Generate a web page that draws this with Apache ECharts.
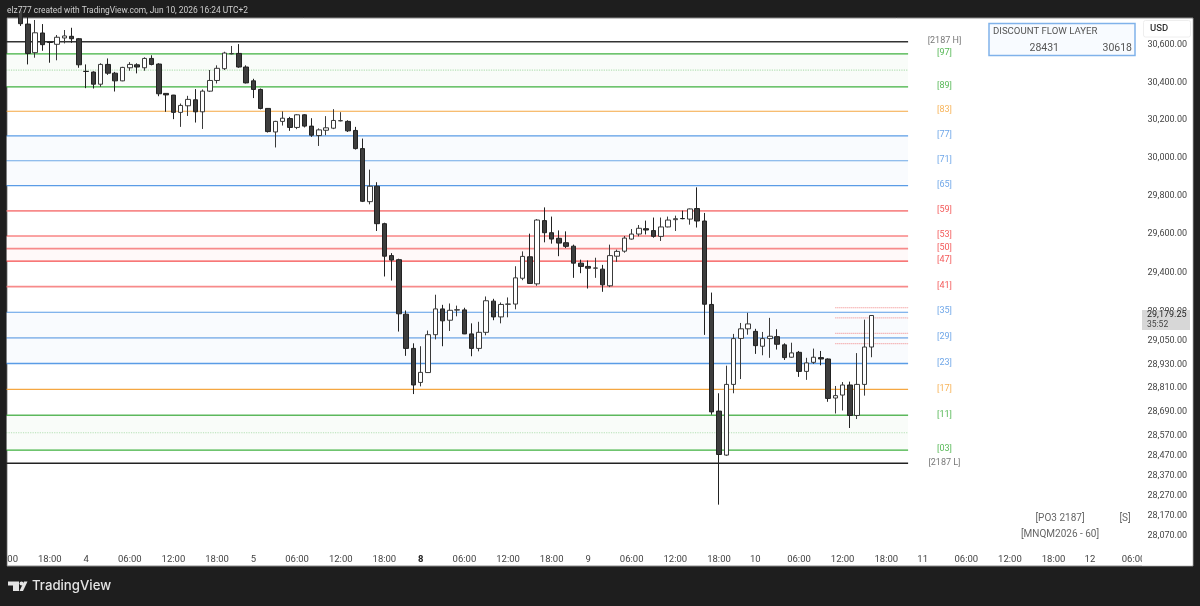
<!DOCTYPE html>
<html>
<head>
<meta charset="utf-8">
<script src="https://cdn.jsdelivr.net/npm/echarts@6/dist/echarts.min.js"></script>
<style>html,body{margin:0;padding:0;background:#1e1e1e}#c{width:1200px;height:606px}</style>
</head>
<body>
<div id="c"></div>
<script>
const opens=[30789,30713,30559,30665,30615,30604,30638,30647,30634,30459,30455,30390,30496,30449,30408,30478,30494,30478,30528,30498,30341,30332,30240,30275,30307,30243,30353,30410,30473,30553,30555,30482,30408,30362,30261,30136,30192,30207,30160,30227,30167,30117,30145,30156,30195,30192,30144,30048,29769,29850,29654,29488,29467,29186,29011,28838,28888,29081,29213,29155,29207,29208,29085,29011,29093,29253,29172,29237,29238,29371,29482,29342,29670,29607,29578,29555,29537,29449,29432,29423,29418,29332,29485,29511,29574,29600,29628,29618,29588,29637,29675,29681,29678,29733,29668,29236,28693,28472,28828,29062,29111,29098,29022,29061,29071,29029,28966,28991,28894,28940,28964,28957,28759,28774,28825,28671,28828,29018];
const closes=[30715,30555,30666,30602,30614,30642,30649,30634,30494,30458,30390,30496,30449,30408,30480,30496,30482,30528,30496,30339,30333,30240,30277,30309,30243,30353,30410,30475,30557,30554,30482,30397,30362,30261,30138,30192,30209,30160,30227,30167,30119,30147,30158,30197,30196,30142,30048,29771,29850,29654,29485,29465,29188,29011,28825,28889,29081,29213,29152,29206,29209,29085,29011,29093,29255,29172,29236,29238,29373,29484,29344,29673,29607,29574,29553,29536,29449,29432,29423,29424,29337,29488,29510,29579,29600,29630,29621,29588,29637,29673,29680,29680,29731,29668,29237,28689,28475,28828,29061,29111,29136,29025,29061,29073,29032,28964,28988,28894,28937,28966,28957,28757,28771,28825,28671,28828,29018,29179.25];
const lows=[30703,30496,30532,30569,30505,30518,30609,30612,30478,30369,30367,30376,30440,30351,30406,30462,30448,30462,30491,30326,30243,30204,30163,30221,30186,30152,30349,30394,30466,30550,30478,30394,30316,30256,30133,30054,30170,30142,30151,30160,30110,30062,30119,30151,30192,30136,30043,29767,29755,29616,29380,29359,29097,28973,28779,28818,28887,29057,29022,29100,29175,29084,28971,28996,29078,29155,29139,29170,29211,29361,29342,29332,29557,29550,29485,29527,29373,29397,29318,29373,29301,29325,29456,29503,29571,29588,29598,29581,29564,29635,29616,29677,29649,29634,29080,28675,28225,28468,28783,28855,29081,28983,28976,28963,29005,28952,28964,28866,28851,28932,28925,28740,28681,28696,28608,28653,28771,28966];
const highs=[30816,30757,30735,30713,30616,30654,30681,30693,30638,30496,30459,30502,30528,30456,30483,30508,30502,30534,30545,30502,30342,30333,30287,30328,30364,30362,30466,30491,30564,30595,30605,30491,30419,30367,30262,30195,30245,30216,30230,30230,30209,30155,30220,30257,30241,30198,30163,30101,29937,29871,29659,29501,29472,29205,29037,29022,29102,29286,29234,29241,29230,29219,29139,29147,29277,29265,29246,29272,29433,29510,29602,29678,29739,29691,29619,29614,29545,29467,29463,29477,29440,29545,29519,29590,29626,29647,29670,29686,29686,29691,29696,29722,29733,29844,29710,29297,28783,28923,29085,29141,29193,29111,29095,29167,29109,29037,29040,28998,28963,29010,28998,28960,28820,28840,28842,28987,29158,29180];

const timeLabels={0:'12:00',6:'18:00',11:'4',17:'06:00',23:'12:00',29:'18:00',34:'5',40:'06:00',46:'12:00',52:'18:00',57:'8',63:'06:00',69:'12:00',75:'18:00',80:'9',86:'06:00',92:'12:00',98:'18:00',103:'10',109:'06:00',115:'12:00',121:'18:00',126:'11',132:'06:00',138:'12:00',144:'18:00',149:'12',155:'06:00'};
const barCount=157, firstBarIndex=2, levelEndIndex=124, dottedStartIndex=114, levelLabelIndex=129;
const priceTicks=[30600,30400,30200,30000,29800,29600,29400,29200,29050,28930,28810,28690,28570,28470,28370,28270,28170,28070];

const levelNames=['[2187 H]','[97]','','[89]','[83]','[77]','[71]','[65]','[59]','[53]','[50]','[47]','[41]','[35]','[29]','[23]','[17]','[11]','','[03]','[2187 L]'];
const levelValues=[30618,30552,30465,30376,30246,30115,29984,29853,29721,29590,29524.5,29459,29328,29196,29065,28934,28803,28672,28584,28497,28431];
const levelColors=['#333333','#3fb03f','#b5e0b5','#3fb03f','#f5a742','#5a9ce6','#6ea8e6','#5a9ce6','#f78a8a','#f54a4a','#f78a8a','#f54a4a','#f78a8a','#5a9ce6','#94bdec','#5a9ce6','#f5a742','#5cb85c','#b5e0b5','#3fb03f','#222222'];
const levelWidths=[1.5,1.2,1.2,1.2,1.2,1.2,1.2,1.2,1.7,1.2,1.7,1.2,1.7,1.2,1.7,1.3,1.2,1.5,1.2,1.2,1.5];
const levelTypes=['solid','solid','dotted','solid','solid','solid','solid','solid','solid','solid','solid','solid','solid','solid','solid','solid','solid','solid','dotted','solid','solid'];
const labelColors=['#555','#2ea82e','','#2ea82e','#f5a030','#4a90e2','#4a90e2','#4a90e2','#f03030','#f03030','#f03030','#f03030','#f03030','#4a90e2','#4a90e2','#4a90e2','#f5a030','#2ea82e','','#2ea82e','#555'];
const zones=[[30552,30376,'#f9fcf9'],[30115,29853,'#f9fbfe'],[29590,29459,'#fff9f9'],[29196,28934,'#f9fbfe'],[28672,28497,'#f9fcf9']];
const dottedRed=[29219,29167,29088,29035];

const tableTitle='DISCOUNT FLOW LAYER', tableLow='28431', tableHigh='30618';
const lastPrice='29,179.25', countdown='35:52';
const FONT='Roboto, "Liberation Sans", sans-serif';

const categories=Array.from({length:barCount},(_,i)=>timeLabels[i]||'');
const candleData=Array.from({length:barCount},(_,i)=>{
  const k=i-firstBarIndex;
  return (k>=0&&k<opens.length)?[opens[k],closes[k],lows[k],highs[k]]:'-';
});

const series=[];
levelValues.forEach((v,i)=>{
  series.push({type:'line',silent:true,showSymbol:false,animation:false,z:2,
    data:[[0,v],[levelEndIndex,v]],
    lineStyle:{color:levelColors[i],width:levelWidths[i],type:levelTypes[i]}});
});
dottedRed.forEach(v=>{
  series.push({type:'line',silent:true,showSymbol:false,animation:false,z:2,
    data:[[dottedStartIndex,v],[levelEndIndex,v]],
    lineStyle:{color:'#f08080',width:1,type:'dotted'}});
});
series.push({type:'line',silent:true,showSymbol:false,animation:false,z:1,data:[],lineStyle:{width:0},
  markArea:{silent:true,animation:false,data:zones.map(z=>[
    {coord:[0,z[0]],itemStyle:{color:z[2],opacity:1}},{coord:[levelEndIndex,z[1]]}])}});
series.push({type:'candlestick',animation:false,silent:true,z:5,barWidth:5,data:candleData,
  itemStyle:{color:'#ffffff',color0:'#3d3d3d',borderColor:'#3a3a3a',borderColor0:'#222222',borderColorDoji:'#333333',borderWidth:1}});
series.push({type:'scatter',animation:false,silent:true,z:6,symbolSize:1,itemStyle:{color:'transparent'},
  data:levelValues.map((v,i)=>({value:[levelLabelIndex,v],
    label:{show:!!levelNames[i],formatter:levelNames[i],position:'inside',offset:[0,-1],color:labelColors[i],fontSize:9,fontFamily:FONT}}))});

const graphic=[
  {type:'rect',z:-10,silent:true,shape:{x:7,y:18,width:1186,height:548},style:{fill:'#ffffff',stroke:'#8a8a8a',lineWidth:1}},
  {type:'rect',z:100,silent:true,shape:{x:0,y:18,width:6.5,height:549},style:{fill:'#1e1e1e'}},
  {type:'rect',z:100,silent:true,shape:{x:1142,y:19,width:50.5,height:546.5},style:{fill:'#ffffff'}},
  {type:'text',z:100,silent:true,x:7,y:11,style:{text:'elz777 created with TradingView.com, Jun 10, 2026 16:24 UTC+2',fill:'#cfcfcf',font:'8.4px '+FONT,verticalAlign:'middle'}},
  {type:'rect',z:101,silent:true,shape:{x:989,y:23.5,width:146,height:32},style:{fill:'#f8fbff',stroke:'#80b2ea',lineWidth:1.5}},
  {type:'text',z:102,silent:true,x:993,y:32,style:{text:tableTitle,fill:'#555',font:'9.6px '+FONT,verticalAlign:'middle'}},
  {type:'text',z:102,silent:true,x:1059,y:48,style:{text:tableLow,fill:'#555',font:'10.5px '+FONT,align:'right',verticalAlign:'middle'}},
  {type:'text',z:102,silent:true,x:1132,y:48,style:{text:tableHigh,fill:'#555',font:'10.5px '+FONT,align:'right',verticalAlign:'middle'}},
  {type:'rect',z:101,silent:true,shape:{x:1143.5,y:20.5,width:47,height:16.5,r:2},style:{fill:'#fff',stroke:'#eeeeee',lineWidth:1}},
  {type:'text',z:102,silent:true,x:1150,y:29,style:{text:'USD',fill:'#333',font:'500 9.5px '+FONT,verticalAlign:'middle'}},
  {type:'rect',z:300,silent:true,shape:{x:1142,y:310,width:48,height:20},style:{fill:'#d7d7d7'}},
  {type:'text',z:301,silent:true,x:1147,y:315,style:{text:lastPrice,fill:'#222',font:'9px '+FONT,verticalAlign:'middle'}},
  {type:'text',z:301,silent:true,x:1147,y:324.5,style:{text:countdown,fill:'#444',font:'8.5px '+FONT,verticalAlign:'middle'}},
  {type:'text',z:102,silent:true,x:1060,y:518,style:{text:'[PO3 2187]',fill:'#666',font:'10px '+FONT,align:'center',verticalAlign:'middle'}},
  {type:'text',z:102,silent:true,x:1125,y:518,style:{text:'[S]',fill:'#666',font:'10px '+FONT,align:'center',verticalAlign:'middle'}},
  {type:'text',z:102,silent:true,x:1060,y:534,style:{text:'[MNQM2026 - 60]',fill:'#666',font:'10px '+FONT,align:'center',verticalAlign:'middle'}},
  {type:'polygon',z:102,silent:true,shape:{points:[[8,581.5],[19,581.5],[19,591],[13,591],[13,585.5],[8,585.5]]},style:{fill:'#e4e4e4'}},
  {type:'circle',z:102,silent:true,shape:{cx:21.5,cy:583.5,r:2},style:{fill:'#e4e4e4'}},
  {type:'polygon',z:102,silent:true,shape:{points:[[24,581.5],[27.5,581.5],[23,591],[19.5,591]]},style:{fill:'#e4e4e4'}},
  {type:'text',z:102,silent:true,x:32,y:586,style:{text:'TradingView',fill:'#e4e4e4',font:'500 13.2px Inter, '+FONT,verticalAlign:'middle'}}
];

const chart=echarts.init(document.getElementById('c'),null,{renderer:'canvas'});
chart.setOption({
  backgroundColor:'#1e1e1e',animation:false,
  grid:{left:2.5,top:18,width:1142,height:531,containLabel:false,outerBoundsMode:'none'},
  xAxis:{type:'category',data:categories,boundaryGap:true,z:0,
    axisLine:{show:false},axisTick:{show:false},splitLine:{show:false},
    axisLabel:{interval:0,margin:6,hideOverlap:false,showMinLabel:true,showMaxLabel:true,color:'#444',fontSize:9.5,fontFamily:FONT,
      formatter:v=>v==='8'?'{b|8}':v,rich:{b:{fontWeight:'bold',color:'#222',fontSize:9.5,fontFamily:FONT}}}},
  yAxis:{type:'log',logBase:10,position:'right',min:28005.8,max:30745.8,z:200,scale:true,
    axisLine:{show:false},axisTick:{show:false},splitLine:{show:false},minorTick:{show:false},
    axisLabel:{margin:3,color:'#444',fontSize:9,fontFamily:FONT,customValues:priceTicks,showMinLabel:true,showMaxLabel:true,padding:[2,0,0,0],
      formatter:v=>Math.round(v).toLocaleString('en-US',{minimumFractionDigits:2,maximumFractionDigits:2})}},
  series,graphic
});
</script>
</body>
</html>
